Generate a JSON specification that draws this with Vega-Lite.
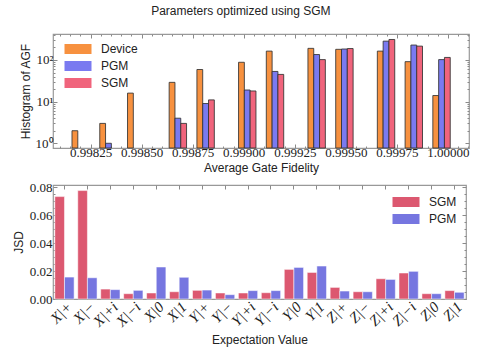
{
  "$schema": "https://vega.github.io/schema/vega-lite/v6.json",
  "padding": {"left": 11, "top": 5, "right": 5, "bottom": 5},
  "background": "white",
  "title": {"text": "Parameters optimized using SGM", "font": "Liberation Sans", "fontSize": 12, "fontWeight": "normal", "color": "#222", "anchor": "middle", "offset": 10},
  "config": {
    "view": {"stroke": "#999", "strokeWidth": 1.2},
    "axis": {"domain": false, "grid": false, "minExtent": 0, "tickColor": "#8a8a8a", "tickWidth": 1, "labelOverlap": false, "labelFont": "Liberation Serif", "labelFontSize": 13, "labelColor": "#222", "titleFont": "Liberation Sans", "titleFontSize": 12, "titleFontWeight": "normal", "titleColor": "#222"},
    "legend": {"labelFont": "Liberation Sans", "labelFontSize": 12, "labelColor": "#222", "symbolType": "M-2,-0.74H2V0.74H-2Z", "symbolSize": 182.25, "symbolStrokeWidth": 0, "labelOffset": 16, "rowPadding": 4, "padding": 0, "title": null}
  },
  "resolve": {"scale": {"color": "independent"}, "legend": {"color": "independent"}},
  "spacing": 6,
  "vconcat": [
    {
      "width": 416,
      "height": 114,
      "data": {"values": [
        {"bin_start": 0.9981594, "bin_end": 0.9981878, "series": "Device", "count": 2},
        {"bin_start": 0.9982953, "bin_end": 0.9983237, "series": "Device", "count": 3},
        {"bin_start": 0.9983237, "bin_end": 0.9983521, "series": "PGM", "count": 1},
        {"bin_start": 0.9984312, "bin_end": 0.9984596, "series": "Device", "count": 16},
        {"bin_start": 0.9986350, "bin_end": 0.9986634, "series": "Device", "count": 29},
        {"bin_start": 0.9986634, "bin_end": 0.9986918, "series": "PGM", "count": 4},
        {"bin_start": 0.9986918, "bin_end": 0.9987202, "series": "SGM", "count": 3},
        {"bin_start": 0.9987709, "bin_end": 0.9987993, "series": "Device", "count": 59},
        {"bin_start": 0.9987993, "bin_end": 0.9988277, "series": "PGM", "count": 9},
        {"bin_start": 0.9988277, "bin_end": 0.9988561, "series": "SGM", "count": 11},
        {"bin_start": 0.9989747, "bin_end": 0.9990031, "series": "Device", "count": 88},
        {"bin_start": 0.9990031, "bin_end": 0.9990315, "series": "PGM", "count": 19},
        {"bin_start": 0.9990315, "bin_end": 0.9990599, "series": "SGM", "count": 18},
        {"bin_start": 0.9991106, "bin_end": 0.9991390, "series": "Device", "count": 163},
        {"bin_start": 0.9991390, "bin_end": 0.9991674, "series": "PGM", "count": 53},
        {"bin_start": 0.9991674, "bin_end": 0.9991958, "series": "SGM", "count": 45},
        {"bin_start": 0.9993144, "bin_end": 0.9993428, "series": "Device", "count": 190},
        {"bin_start": 0.9993428, "bin_end": 0.9993712, "series": "PGM", "count": 135},
        {"bin_start": 0.9993712, "bin_end": 0.9993996, "series": "SGM", "count": 102},
        {"bin_start": 0.9994503, "bin_end": 0.9994787, "series": "Device", "count": 180},
        {"bin_start": 0.9994787, "bin_end": 0.9995071, "series": "PGM", "count": 183},
        {"bin_start": 0.9995071, "bin_end": 0.9995355, "series": "SGM", "count": 188},
        {"bin_start": 0.9996541, "bin_end": 0.9996825, "series": "Device", "count": 163},
        {"bin_start": 0.9996825, "bin_end": 0.9997109, "series": "PGM", "count": 283},
        {"bin_start": 0.9997109, "bin_end": 0.9997393, "series": "SGM", "count": 310},
        {"bin_start": 0.9997900, "bin_end": 0.9998184, "series": "Device", "count": 91},
        {"bin_start": 0.9998184, "bin_end": 0.9998468, "series": "PGM", "count": 228},
        {"bin_start": 0.9998468, "bin_end": 0.9998752, "series": "SGM", "count": 215},
        {"bin_start": 0.9999258, "bin_end": 0.9999542, "series": "Device", "count": 14},
        {"bin_start": 0.9999542, "bin_end": 0.9999826, "series": "PGM", "count": 102},
        {"bin_start": 0.9999826, "bin_end": 1.0000110, "series": "SGM", "count": 115}
      ]},
      "resolve": {"axis": {"x": "independent", "y": "independent"}},
      "layer": [
        {
          "mark": {"type": "bar", "stroke": "#333", "strokeOpacity": 0.85, "strokeWidth": 1},
          "encoding": {
            "x": {"field": "bin_start", "type": "quantitative",
                  "scale": {"domain": [0.9980664, 1.0001028], "nice": false, "zero": false},
                  "axis": {"orient": "bottom", "values": [0.9981, 0.99815, 0.9982, 0.99825, 0.9983, 0.99835, 0.9984, 0.99845, 0.9985, 0.99855, 0.9986, 0.99865, 0.9987, 0.99875, 0.9988, 0.99885, 0.9989, 0.99895, 0.999, 0.99905, 0.9991, 0.99915, 0.9992, 0.99925, 0.9993, 0.99935, 0.9994, 0.99945, 0.9995, 0.99955, 0.9996, 0.99965, 0.9997, 0.99975, 0.9998, 0.99985, 0.9999, 0.99995, 1.0, 1.00005, 1.0001],
                           "labelExpr": "indexof([0.99825, 0.9985, 0.99875, 0.999, 0.99925, 0.9995, 0.99975, 1], datum.value) >= 0 ? format(datum.value, '.5f') : ''",
                           "tickSize": {"condition": {"test": "indexof([0.99825, 0.9985, 0.99875, 0.999, 0.99925, 0.9995, 0.99975, 1], datum.value) >= 0", "value": -4}, "value": -2},
                           "title": "Average Gate Fidelity", "labelPadding": 2, "titlePadding": 1}},
            "x2": {"field": "bin_end"},
            "y": {"field": "count", "type": "quantitative",
                  "scale": {"type": "log", "domain": [0.77, 420], "nice": false},
                  "axis": {"orient": "left", "values": [1, 2, 3, 4, 5, 6, 7, 8, 9, 10, 20, 30, 40, 50, 60, 70, 80, 90, 100, 200, 300, 400],
                           "labelExpr": "datum.value == 1 ? '10⁰' : datum.value == 10 ? '10¹' : datum.value == 100 ? '10²' : ''",
                           "tickSize": {"condition": {"test": "indexof([1, 10, 100], datum.value) >= 0", "value": -4}, "value": -2},
                           "title": "Histogram of AGF", "labelPadding": 4, "titlePadding": 3}},
            "y2": {"datum": 0.77},
            "color": {"field": "series", "type": "nominal",
                      "scale": {"domain": ["Device", "PGM", "SGM"], "range": ["#f7913f", "#7a7af0", "#f0647c"]},
                      "legend": {"orient": "none", "legendX": 18, "legendY": 8}}
          }
        },
        {
          "mark": {"type": "bar", "opacity": 0},
          "encoding": {
            "x": {"field": "bin_start", "type": "quantitative",
                  "axis": {"orient": "top", "values": [0.9981, 0.99815, 0.9982, 0.99825, 0.9983, 0.99835, 0.9984, 0.99845, 0.9985, 0.99855, 0.9986, 0.99865, 0.9987, 0.99875, 0.9988, 0.99885, 0.9989, 0.99895, 0.999, 0.99905, 0.9991, 0.99915, 0.9992, 0.99925, 0.9993, 0.99935, 0.9994, 0.99945, 0.9995, 0.99955, 0.9996, 0.99965, 0.9997, 0.99975, 0.9998, 0.99985, 0.9999, 0.99995, 1.0, 1.00005, 1.0001],
                           "labels": false, "title": null,
                           "tickSize": {"condition": {"test": "indexof([0.99825, 0.9985, 0.99875, 0.999, 0.99925, 0.9995, 0.99975, 1], datum.value) >= 0", "value": -4}, "value": -2}}},
            "x2": {"field": "bin_end"},
            "y": {"field": "count", "type": "quantitative",
                  "axis": {"orient": "right", "values": [1, 2, 3, 4, 5, 6, 7, 8, 9, 10, 20, 30, 40, 50, 60, 70, 80, 90, 100, 200, 300, 400],
                           "labels": false, "title": null,
                           "tickSize": {"condition": {"test": "indexof([1, 10, 100], datum.value) >= 0", "value": -4}, "value": -2}}},
            "y2": {"datum": 0.77}
          }
        }
      ]
    },
    {
      "width": 413,
      "height": 114,
      "data": {"values": [
        {"state": "X|+", "method": "SGM", "jsd": 0.0733}, {"state": "X|+", "method": "PGM", "jsd": 0.0157},
        {"state": "X|−", "method": "SGM", "jsd": 0.0776}, {"state": "X|−", "method": "PGM", "jsd": 0.0152},
        {"state": "X|+i", "method": "SGM", "jsd": 0.0071}, {"state": "X|+i", "method": "PGM", "jsd": 0.0067},
        {"state": "X|−i", "method": "SGM", "jsd": 0.0038}, {"state": "X|−i", "method": "PGM", "jsd": 0.0062},
        {"state": "X|0", "method": "SGM", "jsd": 0.0043}, {"state": "X|0", "method": "PGM", "jsd": 0.0229},
        {"state": "X|1", "method": "SGM", "jsd": 0.0052}, {"state": "X|1", "method": "PGM", "jsd": 0.0155},
        {"state": "Y|+", "method": "SGM", "jsd": 0.0062}, {"state": "Y|+", "method": "PGM", "jsd": 0.0064},
        {"state": "Y|−", "method": "SGM", "jsd": 0.0043}, {"state": "Y|−", "method": "PGM", "jsd": 0.0031},
        {"state": "Y|+i", "method": "SGM", "jsd": 0.0043}, {"state": "Y|+i", "method": "PGM", "jsd": 0.006},
        {"state": "Y|−i", "method": "SGM", "jsd": 0.0045}, {"state": "Y|−i", "method": "PGM", "jsd": 0.006},
        {"state": "Y|0", "method": "SGM", "jsd": 0.0212}, {"state": "Y|0", "method": "PGM", "jsd": 0.0226},
        {"state": "Y|1", "method": "SGM", "jsd": 0.019}, {"state": "Y|1", "method": "PGM", "jsd": 0.0236},
        {"state": "Z|+", "method": "SGM", "jsd": 0.0083}, {"state": "Z|+", "method": "PGM", "jsd": 0.0057},
        {"state": "Z|−", "method": "SGM", "jsd": 0.0052}, {"state": "Z|−", "method": "PGM", "jsd": 0.0052},
        {"state": "Z|+i", "method": "SGM", "jsd": 0.0145}, {"state": "Z|+i", "method": "PGM", "jsd": 0.014},
        {"state": "Z|−i", "method": "SGM", "jsd": 0.0186}, {"state": "Z|−i", "method": "PGM", "jsd": 0.0198},
        {"state": "Z|0", "method": "SGM", "jsd": 0.0038}, {"state": "Z|0", "method": "PGM", "jsd": 0.0038},
        {"state": "Z|1", "method": "SGM", "jsd": 0.006}, {"state": "Z|1", "method": "PGM", "jsd": 0.0048}
      ]},
      "resolve": {"axis": {"x": "independent", "y": "independent"}},
      "layer": [
        {
          "mark": {"type": "bar", "stroke": "white", "strokeOpacity": 0.5, "strokeWidth": 1},
          "encoding": {
            "x": {"field": "state", "type": "nominal", "sort": null,
                  "scale": {"paddingInner": 0.16, "paddingOuter": 0.08},
                  "axis": {"orient": "bottom", "tickSize": -4, "labelAngle": -45, "labelFontStyle": "italic", "labelFontSize": 15, "title": "Expectation Value", "labelPadding": 4, "titlePadding": 5}},
            "xOffset": {"field": "method", "type": "nominal", "sort": ["SGM", "PGM"]},
            "y": {"field": "jsd", "type": "quantitative",
                  "scale": {"domain": [0, 0.0816], "nice": false},
                  "axis": {"orient": "left", "values": [0, 0.005, 0.01, 0.015, 0.02, 0.025, 0.03, 0.035, 0.04, 0.045, 0.05, 0.055, 0.06, 0.065, 0.07, 0.075, 0.08],
                           "labelExpr": "indexof([0, 0.02, 0.04, 0.06, 0.08], datum.value) >= 0 ? format(datum.value, '.2f') : ''",
                           "tickSize": {"condition": {"test": "indexof([0, 0.02, 0.04, 0.06, 0.08], datum.value) >= 0", "value": -4}, "value": -2},
                           "title": "JSD", "labelPadding": 5, "titlePadding": 4}},
            "color": {"field": "method", "type": "nominal",
                      "scale": {"domain": ["SGM", "PGM"], "range": ["#dc5870", "#7676e0"]},
                      "legend": {"orient": "none", "legendX": 346, "legendY": 10}}
          }
        },
        {
          "mark": {"type": "bar", "opacity": 0},
          "encoding": {
            "x": {"field": "state", "type": "nominal", "sort": null,
                  "axis": {"orient": "top", "tickSize": -4, "labels": false, "title": null}},
            "xOffset": {"field": "method", "type": "nominal", "sort": ["SGM", "PGM"]},
            "y": {"field": "jsd", "type": "quantitative",
                  "axis": {"orient": "right", "values": [0, 0.005, 0.01, 0.015, 0.02, 0.025, 0.03, 0.035, 0.04, 0.045, 0.05, 0.055, 0.06, 0.065, 0.07, 0.075, 0.08],
                           "labels": false, "title": null,
                           "tickSize": {"condition": {"test": "indexof([0, 0.02, 0.04, 0.06, 0.08], datum.value) >= 0", "value": -4}, "value": -2}}}
          }
        }
      ]
    }
  ]
}
